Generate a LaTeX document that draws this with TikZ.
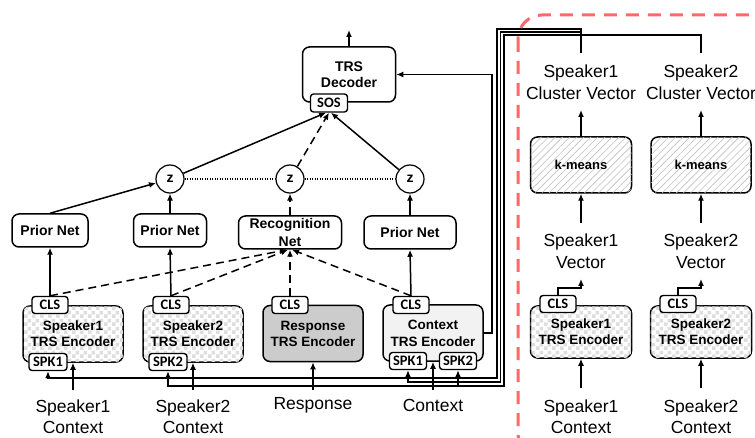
\documentclass[tikz,border=0pt]{standalone}
\usepackage{fontspec}
\setmainfont{Liberation Sans}
\newfontfamily\tagfont{Carlito}
\usetikzlibrary{arrows.meta,patterns,patterns.meta}
\definecolor{redash}{RGB}{255,104,104}
\tikzdeclarepattern{
  name=mycheck,
  type=uncolored,
  bounding box={(0pt,0pt) and (8pt,8pt)},
  tile size={(8pt,8pt)},
  code={\fill (0pt,0pt) rectangle (4pt,4pt); \fill (4pt,4pt) rectangle (8pt,8pt);}
}
\begin{document}
\begin{tikzpicture}[x=1pt,y=-1pt,
  box/.style={draw, line width=1.5pt, rounded corners=7pt, inner sep=0pt, align=center,
    font=\bfseries\fontsize{14}{16}\selectfont},
  encbox/.style={box, minimum width=100pt, minimum height=56pt, font=\bfseries\fontsize{13.5}{16}\selectfont},
  checker/.style={fill=white, postaction={pattern=mycheck, pattern color=black!13}},
  hatch/.style={fill=white, postaction={pattern={Lines[angle=45,distance=5pt,line width=0.6pt]}, pattern color=black!25}},
  tag/.style={draw, fill=white, line width=1.4pt, rounded corners=3pt, inner sep=0pt,
    minimum height=17pt, font=\tagfont\bfseries\fontsize{14.5}{15}\selectfont},
  zc/.style={circle, draw, fill=white, line width=1.2pt, minimum size=28pt, inner sep=0pt,
    font=\bfseries\fontsize{14}{14}\selectfont},
  lbl/.style={align=center, inner sep=0pt, font=\fontsize{17.5}{21.5}\selectfont},
  arr/.style={-{Latex[length=7pt,width=6pt]}, line width=1.5pt},
  darr/.style={arr, dash pattern=on 8pt off 5pt},
  wire/.style={line width=1.5pt},
]
\useasboundingbox (0,0) rectangle (755,438);

% ---------- bottom encoders ----------
\node[encbox, checker] (enc1) at (73,334) {Speaker1\\TRS Encoder};
\node[encbox, checker] (enc2) at (193,334) {Speaker2\\TRS Encoder};
\node[encbox, fill=black!20] (encR) at (313,333.5) {Response\\TRS Encoder};
\node[encbox, fill=black!5] (encC) at (433,333) {\raisebox{1pt}{Context}\\TRS Encoder};

\node[tag, minimum width=36pt] (cls1) at (50,305) {CLS};
\node[tag, minimum width=36pt] (cls2) at (171,305) {CLS};
\node[tag, minimum width=36pt] (clsR) at (290,305) {CLS};
\node[tag, minimum width=36pt] (clsC) at (411,305) {CLS};
\node[tag, minimum width=38pt] (spk1a) at (48,362) {SPK1};
\node[tag, minimum width=38pt] (spk2a) at (168,362) {SPK2};
\node[tag, minimum width=37pt] (spkC1) at (408,361) {SPK1};
\node[tag, minimum width=37pt] (spkC2) at (458,361) {SPK2};

% bottom labels
\node[lbl] (lS1) at (73,416.5) {Speaker1\\Context};
\node[lbl] (lS2) at (193,416.5) {Speaker2\\Context};
\node[lbl] (lR) at (313,405) {Response};
\node[lbl] (lC) at (433,405) {Context};
\coordinate (in1) at (73,390);
\coordinate (in2) at (193,390);
\coordinate (inR) at (313,390);
\coordinate (inC) at (433,390);
\draw[arr] (in1) -- (enc1.south);
\draw[arr] (in2) -- (enc2.south);
\draw[arr] (inR) -- (encR.south);
\draw[arr] (inC) -- (encC.south);

% ---------- prior / recognition nets ----------
\node[box, minimum width=76pt, minimum height=33pt] (pn1) at (50,230.5) {Prior Net};
\node[box, minimum width=73pt, minimum height=33pt] (pn2) at (170,230.5) {Prior Net};
\node[box, minimum width=103pt, minimum height=33pt, font=\bfseries\fontsize{14}{17}\selectfont] (rec) at (290,232.5) {Recognition\\[1pt]Net};
\node[box, minimum width=92pt, minimum height=33pt] (pn3) at (410,232.5) {Prior Net};

\node[zc] (z1) at (170,179) {z};
\node[zc] (z2) at (290,179) {z};
\node[zc] (z3) at (410,179) {z};
\draw[line width=1.1pt, dash pattern=on 1.2pt off 1.3pt] (z1.east) -- (z2.west);
\draw[line width=1.1pt, dash pattern=on 1.2pt off 1.3pt] (z2.east) -- (z3.west);

\draw[arr] (cls1.north) -- (pn1.south);
\draw[arr] (cls2.north) -- (pn2.south);
\draw[arr] (clsC.north) -- (pn3.south);
\draw[darr] (clsR.north) -- (rec.south);
\draw[darr] (cls1.north) -- ([xshift=-3pt]rec.south);
\draw[darr] (cls2.north) -- ([xshift=-2pt]rec.south);
\draw[darr] (clsC.north) -- ([xshift=2pt]rec.south);

\draw[arr] (pn1.north) -- (z1);
\draw[arr] (pn2.north) -- (z1.south);
\draw[darr] (rec.north) -- (z2.south);
\draw[arr] (pn3.north) -- (z3.south);

% ---------- decoder ----------
\node[box, minimum width=93pt, minimum height=55pt] (dec) at (349,74.5) {TRS\\Decoder};
\node[tag, minimum width=37pt, minimum height=18pt] (sos) at (329,103) {SOS};
\coordinate (decout) at (349,30);
\draw[arr] (dec.north) -- (decout);
\draw[arr] (z1) -- ([xshift=-3pt]sos.south);
\draw[darr] (z2) -- (sos.south);
\draw[arr] (z3) -- ([xshift=2pt]sos.south);

% context encoder output to decoder
\draw[arr] (encC.east) -- ++(8,0) |- (dec.east);

% ---------- right panel ----------
\node[encbox, checker, minimum width=101pt, minimum height=52pt] (encS1) at (581,332) {Speaker1\\TRS Encoder};
\node[encbox, checker, minimum width=101pt, minimum height=52pt] (encS2) at (701,332) {Speaker2\\TRS Encoder};
\node[tag, minimum width=36pt] (clsS1) at (558,304) {CLS};
\node[tag, minimum width=36pt] (clsS2) at (678,304) {CLS};
\node[lbl] (rS1) at (581,416.5) {Speaker1\\Context};
\node[lbl] (rS2) at (701,416.5) {Speaker2\\Context};
\coordinate (rin1) at (581,388);
\coordinate (rin2) at (701,388);
\draw[arr] (rin1) -- (encS1.south);
\draw[arr] (rin2) -- (encS2.south);

\node[lbl] (v1) at (581,251) {Speaker1\\Vector};
\node[lbl] (v2) at (701,251) {Speaker2\\Vector};
\coordinate (vt1) at (581,279);
\coordinate (vt2) at (701,279);
\draw[arr] (clsS1.north) -- ++(0,-7) -| (vt1);
\draw[arr] (clsS2.north) -- ++(0,-7) -| (vt2);

\node[box, hatch, minimum width=101pt, minimum height=56pt, font=\bfseries\fontsize{13}{15}\selectfont] (km1) at (581,165) {k-means};
\node[box, hatch, minimum width=100pt, minimum height=56pt, font=\bfseries\fontsize{13}{15}\selectfont] (km2) at (701,165) {k-means};
\coordinate (vb1) at (581,223);
\coordinate (vb2) at (701,223);
\draw[arr] (vb1) -- (km1.south);
\draw[arr] (vb2) -- (km2.south);

\node[lbl] (cv1) at (581,82) {Speaker1\\Cluster Vector};
\node[lbl] (cv2) at (701,82) {Speaker2\\Cluster Vector};
\coordinate (ct1) at (581,110);
\coordinate (ct2) at (701,110);
\draw[arr] (km1.north) -- (ct1);
\draw[arr] (km2.north) -- (ct2);
\coordinate (cw1) at (581,53);
\coordinate (cw2) at (701,53);

% wires from cluster vectors to SPK tags
\draw[arr] (cw1) -- (581,29) -- (497,29) -- (497,378) -- (48,378) -- (spk1a.south);
\draw[arr] (581,32) -- (500.5,32) -- (500.5,382) -- (408,382) -- (spkC1.south);
\draw[arr] (cw2) -- (701,35) -- (504,35) -- (504,386) -- (168,386) -- (spk2a.south);
\draw[arr] (458,386) -- (spkC2.south);

% red dashed frame
\draw[redash, line width=3pt, dash pattern=on 13pt off 9pt, rounded corners=24pt]
  (518,15) rectangle (790,458);
\end{tikzpicture}
\end{document}
